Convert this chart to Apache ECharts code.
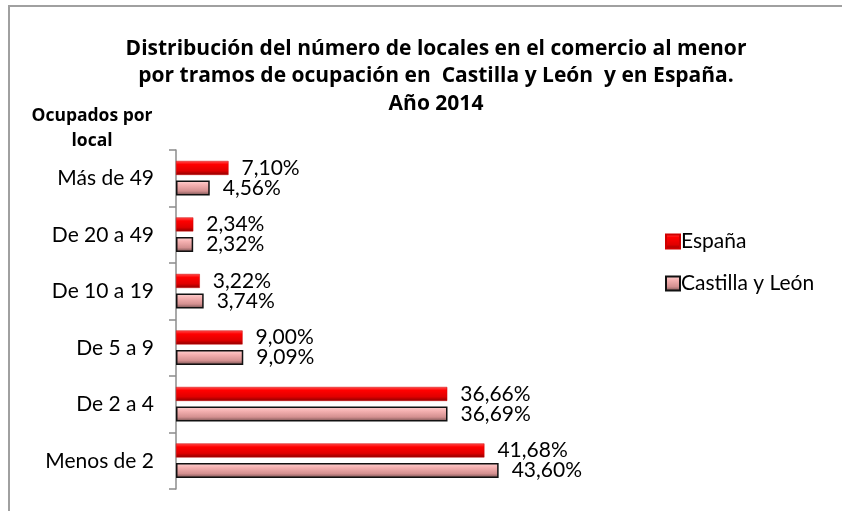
<!DOCTYPE html>
<html>
  <head>
    <meta charset="utf-8" />
    <title>Locales comercio al menor</title>
    <script src="https://cdn.jsdelivr.net/npm/echarts@6/dist/echarts.min.js"></script>
    <style>
      body { margin: 0; background: #fff; }
    </style>
  </head>
  <body>
    <div id="main" style="width: 842px;height:511px;"></div>

    <script type="text/javascript">
      // categories from bottom to top (category axis starts at the bottom)
      var categories = ['Menos de 2', 'De 2 a 4', 'De 5 a 9', 'De 10 a 19', 'De 20 a 49', 'Más de 49'];
      var espana = [41.68, 36.66, 9.00, 3.22, 2.34, 7.10];
      var castilla = [43.60, 36.69, 9.09, 3.74, 2.32, 4.56];

      var font = 'Lato';
      var titleFont = 'Open Sans';

      var redFill = new echarts.graphic.LinearGradient(0, 0, 0, 1, [
        { offset: 0, color: '#ff5050' },
        { offset: 0.25, color: '#ff0000' },
        { offset: 0.7, color: '#e00000' },
        { offset: 1, color: '#8c0000' }
      ]);
      var pinkFill = new echarts.graphic.LinearGradient(0, 0, 0, 1, [
        { offset: 0, color: '#ffd4d4' },
        { offset: 0.3, color: '#f4b0b0' },
        { offset: 0.7, color: '#d49090' },
        { offset: 1, color: '#6e4c4c' }
      ]);

      function pct(p) {
        return p.value.toFixed(2).replace('.', ',') + '%';
      }

      var labelStyle = {
        show: true,
        position: 'right',
        distance: 13,
        formatter: pct,
        fontFamily: font,
        fontSize: 21,
        color: '#000'
      };

      var myBar = echarts.init(document.getElementById('main'));

      var option = {
        animation: false,
        textStyle: { fontFamily: font },
        graphic: [
          {
            type: 'rect',
            shape: { x: 9, y: 6, width: 900, height: 600 },
            style: { fill: 'none', stroke: '#a0a0a0', lineWidth: 2 },
            silent: true
          },
          {
            type: 'text',
            x: 92,
            y: 104,
            style: {
              text: 'Ocupados por\nlocal',
              font: 'bold 17.5px "Open Sans"',
              fill: '#000',
              align: 'center',
              lineHeight: 25
            }
          }
        ],
        title: {
          text: 'Distribución del número de locales en el comercio al menor\npor tramos de ocupación en  Castilla y León  y en España.\nAño 2014',
          left: 431,
          top: 30,
          textAlign: 'center',
          textStyle: {
            fontFamily: titleFont,
            fontSize: 21,
            fontWeight: 'bold',
            color: '#000',
            lineHeight: 27.5
          }
        },
        legend: {
          data: ['España', 'Castilla y León'],
          orient: 'vertical',
          left: 660,
          top: 226,
          itemWidth: 14,
          itemHeight: 14,
          itemGap: 21,
          icon: 'rect',
          textStyle: { fontFamily: font, fontSize: 21, color: '#000', padding: [0, 0, 0, -4] }
        },
        grid: {
          left: 176,
          top: 150,
          width: 370,
          height: 339,
          containLabel: false
        },
        xAxis: {
          type: 'value',
          min: 0,
          max: 50,
          show: false,
          splitLine: { show: false }
        },
        yAxis: {
          type: 'category',
          data: categories,
          axisLine: { lineStyle: { color: '#8c8c8c', width: 1.5 } },
          axisTick: { show: true, length: 7, lineStyle: { color: '#8c8c8c', width: 1.5 } },
          axisLabel: { fontFamily: font, fontSize: 21, color: '#000', margin: 22 }
        },
        series: [
          {
            name: 'España',
            type: 'bar',
            data: espana,
            barWidth: 14,
            barGap: '40%',
            itemStyle: { color: redFill, borderColor: '#d00000', borderWidth: 0.5 },
            label: labelStyle
          },
          {
            name: 'Castilla y León',
            type: 'bar',
            data: castilla,
            barWidth: 15,
            itemStyle: { color: pinkFill, borderColor: '#111', borderWidth: 1.5 },
            label: labelStyle
          }
        ]
      };

      myBar.setOption(option);
    </script>
  </body>
</html>
